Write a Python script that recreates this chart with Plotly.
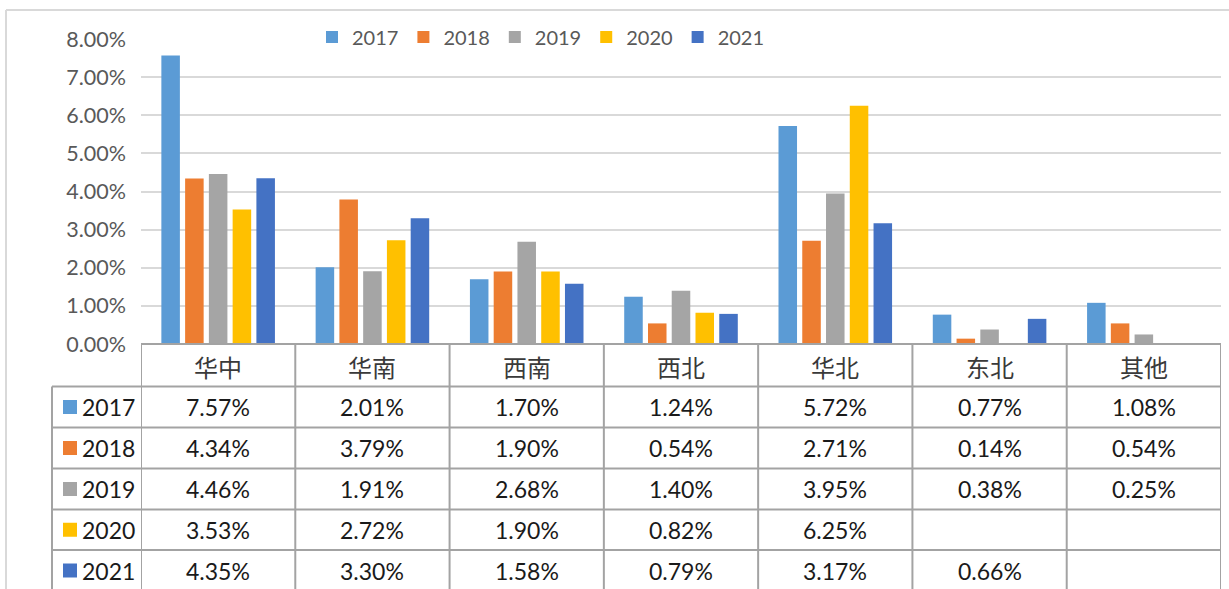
import plotly.graph_objects as go

# Regions (table header) and yearly series, values in percent
regions = ["华中", "华南", "西南", "西北", "华北", "东北", "其他"]
years = ["2017", "2018", "2019", "2020", "2021"]
v2017 = [7.57, 2.01, 1.70, 1.24, 5.72, 0.77, 1.08]
v2018 = [4.34, 3.79, 1.90, 0.54, 2.71, 0.14, 0.54]
v2019 = [4.46, 1.91, 2.68, 1.40, 3.95, 0.38, 0.25]
v2020 = [3.53, 2.72, 1.90, 0.82, 6.25, None, None]
v2021 = [4.35, 3.30, 1.58, 0.79, 3.17, 0.66, None]
series = [v2017, v2018, v2019, v2020, v2021]
colors = ["#5B9BD5", "#ED7D31", "#A5A5A5", "#FFC000", "#4472C4"]

W, H = 1229, 589
PL, PR, PT, PB = 141, 1221, 39, 344  # plot area in pixels
PW, PH = PR - PL, PB - PT


def px(xp):
    return (xp - PL) / PW


def py(yp):
    return (PB - yp) / PH


LATIN = "Lato, 'Noto Sans', sans-serif"
CJK = "'Noto Sans CJK SC', sans-serif"

fig = go.Figure()
for name, vals, col in zip(years, series, colors):
    fig.add_trace(go.Bar(x=regions, y=vals, name=name, marker_color=col,
                         marker_line_width=0))

shapes = []
annotations = []
line_col = "#A3A3A3"

# outer chart frame
shapes.append(dict(type="line", xref="paper", yref="paper",
                   x0=px(6), x1=px(W + 5), y0=py(10), y1=py(10),
                   line=dict(color="#D9D9D9", width=2)))
shapes.append(dict(type="line", xref="paper", yref="paper",
                   x0=px(6), x1=px(6), y0=py(10), y1=py(H + 5),
                   line=dict(color="#D9D9D9", width=2)))

# data table grid
row_edges = [386.5, 427.5, 468.5, 509.5, 550.0, 591.0]
shapes.append(dict(type="line", xref="paper", yref="paper",
                   x0=0, x1=1, y0=py(PB), y1=py(PB),
                   line=dict(color=line_col, width=2)))
for ye in row_edges[:-1]:
    shapes.append(dict(type="line", xref="paper", yref="paper",
                       x0=px(52), x1=1, y0=py(ye), y1=py(ye),
                       line=dict(color=line_col, width=2)))
for i in range(len(regions) + 1):
    shapes.append(dict(type="line", xref="x", yref="paper",
                       x0=i - 0.5, x1=i - 0.5, y0=py(PB), y1=py(H + 5),
                       line=dict(color=line_col, width=2)))
shapes.append(dict(type="line", xref="paper", yref="paper",
                   x0=px(52), x1=px(52), y0=py(row_edges[0]), y1=py(H + 5),
                   line=dict(color=line_col, width=2)))

# header row
for i, r in enumerate(regions):
    annotations.append(dict(xref="x", yref="paper", x=i, y=py(366),
                            xanchor="center", yanchor="middle",
                            text=r, showarrow=False,
                            font=dict(family=CJK, size=24, color="#3a3a3a")))

# series rows
for k, (name, vals, col) in enumerate(zip(years, series, colors)):
    yc = (row_edges[k] + row_edges[k + 1]) / 2
    shapes.append(dict(type="rect", xref="paper", yref="paper",
                       x0=px(63), x1=px(77), y0=py(yc - 7), y1=py(yc + 7),
                       fillcolor=col, line_width=0))
    annotations.append(dict(xref="paper", yref="paper", x=px(80), y=py(yc),
                            xanchor="left", yanchor="middle",
                            text=name, showarrow=False,
                            font=dict(family=LATIN, size=23, color="#1a1a1a")))
    for i, v in enumerate(vals):
        if v is None:
            continue
        annotations.append(dict(xref="x", yref="paper", x=i, y=py(yc),
                                xanchor="center", yanchor="middle",
                                text=f"{v:.2f}%", showarrow=False,
                                font=dict(family=LATIN, size=23, color="#1a1a1a")))

fig.update_layout(
    width=W, height=H,
    margin=dict(l=PL, r=W - PR, t=PT, b=H - PB, pad=0),
    paper_bgcolor="white", plot_bgcolor="white",
    barmode="group", bargap=0.23, bargroupgap=0.22,
    showlegend=True,
    legend=dict(orientation="h", x=px(541), xanchor="center",
                y=py(37), yanchor="middle",
                font=dict(family=LATIN, size=20, color="#595959"),
                bgcolor="rgba(0,0,0,0)", itemwidth=30,
                tracegroupgap=0, traceorder="normal"),
    shapes=shapes,
    annotations=annotations,
)
fig.update_xaxes(range=[-0.5, len(regions) - 0.5], showticklabels=False,
                 showgrid=False, zeroline=False, showline=False, ticks="")
fig.update_yaxes(range=[0, 8], dtick=1, tickformat=".2f", ticksuffix="%",
                 showgrid=True, gridcolor="#D9D9D9", gridwidth=1.5,
                 zeroline=False, showline=False, ticks="",
                 ticklabelstandoff=14,
                 tickfont=dict(family=LATIN, size=21.5, color="#595959"))

fig.write_html("out.html")
